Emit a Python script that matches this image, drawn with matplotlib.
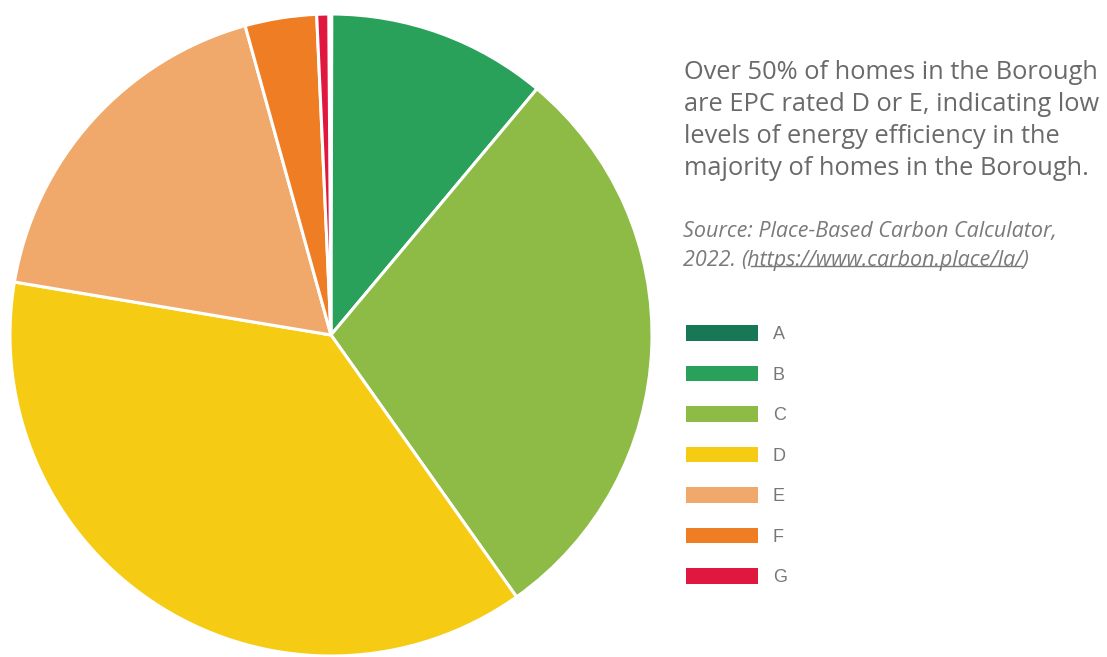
import matplotlib.pyplot as plt
from matplotlib.patches import Patch

# EPC rating shares (percent of homes)
ratings = ['A', 'B', 'C', 'D', 'E', 'F', 'G']
shares = [0.15, 11.05, 29.1, 37.45, 18.05, 3.6, 0.6]
colours = ['#177856', '#2aa15a', '#8dbb45', '#f5cb14', '#f0a96a', '#ef7d23', '#e0173f']

headline = ('Over 50% of homes in the Borough\n'
            'are EPC rated D or E, indicating low\n'
            'levels of energy efficiency in the\n'
            'majority of homes in the Borough.')
source_line1 = 'Source: Place-Based Carbon Calculator,'
source_year = '2022. '
source_url = '(https://www.carbon.place/la/)'

W, H = 1107, 657
fig = plt.figure(figsize=(W / 100, H / 100), dpi=100)

# pie centred at (331, 335) px with radius ~321 px
cx, cy, r = 331, 335, 321
ax = fig.add_axes([(cx - r) / W, (H - cy - r) / H, 2 * r / W, 2 * r / H])
ax.pie(shares, colors=colours, startangle=90.4, counterclock=False,
       wedgeprops={'edgecolor': 'white', 'linewidth': 2.2})
ax.set_xlim(-1, 1)
ax.set_ylim(-1, 1)
ax.set_aspect('equal')

font = 'Open Sans'
fig.text(684 / W, 1 - 60 / H, headline, ha='left', va='top',
         fontsize=18.3, color='#6a6a6a', family=font, linespacing=1.36)

src_kw = dict(ha='left', va='top', fontsize=15.5, color='#7a7a7a',
              family=font, style='italic')
fig.text(683 / W, 1 - 221 / H, source_line1, **src_kw)
yr = fig.text(683 / W, 1 - 250 / H, source_year, **src_kw)

# put the url right after the year and underline it
fig.canvas.draw()
bb = yr.get_window_extent()
url = fig.text(bb.x1 / W, 1 - 250 / H, source_url, **src_kw)
fig.canvas.draw()
ub = url.get_window_extent()
fig.add_artist(plt.Line2D([(ub.x0 + 9) / W, (ub.x1 - 7) / W],
                          [(ub.y0 + 5) / H, (ub.y0 + 5) / H],
                          color='#7a7a7a', linewidth=1.0))

handles = [Patch(facecolor=c, edgecolor='none') for c in colours]
fig.legend(handles, ratings, loc='upper left',
           bbox_to_anchor=(686 / W, 1 - 325 / H), frameon=False,
           borderpad=0, borderaxespad=0,
           handlelength=4.0, handleheight=0.95, handletextpad=0.8,
           labelspacing=1.25, labelcolor='#777777',
           prop={'family': 'Liberation Sans', 'size': 13})

fig.savefig('out.png', dpi=100)
